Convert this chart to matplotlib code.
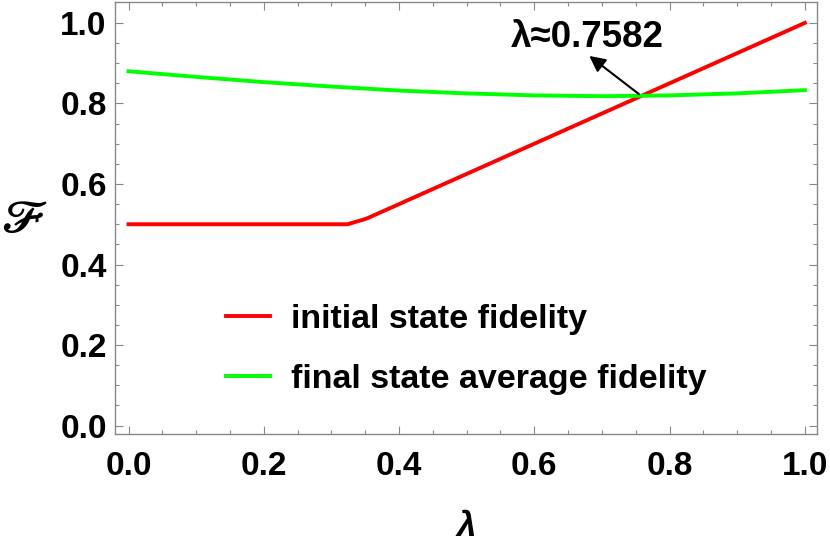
import matplotlib
matplotlib.use("Agg")
import matplotlib.pyplot as plt

# data
lam_red = [0.0, 0.324, 0.352, 1.0]
fid_red = [0.5, 0.5, 0.514, 1.0]

lam_green = [0.0, 0.1, 0.2, 0.3, 0.4, 0.5, 0.6, 0.7, 0.8, 0.9, 1.0]
fid_green = [0.880, 0.866, 0.853, 0.842, 0.832, 0.825, 0.820, 0.818, 0.820, 0.825, 0.833]

labels = ["initial state fidelity", "final state average fidelity"]
cross_lam = 0.7582
cross_fid = 0.8187

plt.rcParams['font.family'] = ['Liberation Sans', 'DejaVu Sans']
plt.rcParams['font.weight'] = 'bold'

fig = plt.figure(figsize=(8.3, 5.51), dpi=100)
ax = fig.add_axes([115 / 830, 1 - 434 / 551, 702 / 830, 432 / 551])

ax.plot(lam_red, fid_red, color='#ff0000', lw=2.8, label=labels[0])
ax.plot(lam_green, fid_green, color='#00ff00', lw=2.8, label=labels[1])

ax.set_xlim(-0.02, 1.018)
ax.set_ylim(-0.021, 1.052)
ax.set_xticks([0.0, 0.2, 0.4, 0.6, 0.8, 1.0])
ax.set_yticks([0.0, 0.2, 0.4, 0.6, 0.8, 1.0])
ax.set_xticks([i * 0.05 for i in range(21)], minor=True)
ax.set_yticks([i * 0.05 for i in range(21)], minor=True)
ax.set_xticklabels(['0.0', '0.2', '0.4', '0.6', '0.8', '1.0'])
ax.set_yticklabels(['0.0', '0.2', '0.4', '0.6', '0.8', '1.0'])

ax.tick_params(which='both', direction='in', top=True, right=True, color='#888888', width=0.8)
ax.tick_params(which='major', length=6)
ax.tick_params(which='minor', length=3)
ax.tick_params(axis='x', which='major', pad=12, labelsize=24)
ax.tick_params(axis='y', which='major', pad=6, labelsize=24)
for lbl in ax.get_xticklabels() + ax.get_yticklabels():
    lbl.set_fontweight('bold')
for sp in ax.spines.values():
    sp.set_color('#888888')
    sp.set_linewidth(1.0)

ax.set_xlabel('λ', fontsize=25, fontweight='bold', style='italic', va='center')
ax.xaxis.set_label_coords(0.5, -0.213)
ax.set_ylabel(r'$\mathscr{F}$', fontsize=32, rotation=0, va='center', ha='center',
              math_fontfamily='stix')
ax.yaxis.set_label_coords(-0.13, 0.494)

# crossing annotation
ax.annotate('', xy=(cross_lam, cross_fid), xytext=(-52, 40), textcoords='offset pixels',
            arrowprops=dict(arrowstyle='<|-', color='black', lw=1.5, mutation_scale=24,
                            shrinkA=0, shrinkB=2))
ax.annotate('λ≈0.7582', xy=(cross_lam, cross_fid), xytext=(-54, 58), textcoords='offset pixels',
            ha='center', va='center', fontsize=26.5, fontweight='bold')

leg = ax.legend(loc='upper left', bbox_to_anchor=(226 / 830, 1 - 304 / 551),
                bbox_transform=fig.transFigure, frameon=False, fontsize=24.5,
                handlelength=1.3, handletextpad=0.62, labelspacing=0.85,
                borderpad=0, borderaxespad=0)
for t in leg.get_texts():
    t.set_fontweight('bold')

fig.savefig('out.png', dpi=100)
